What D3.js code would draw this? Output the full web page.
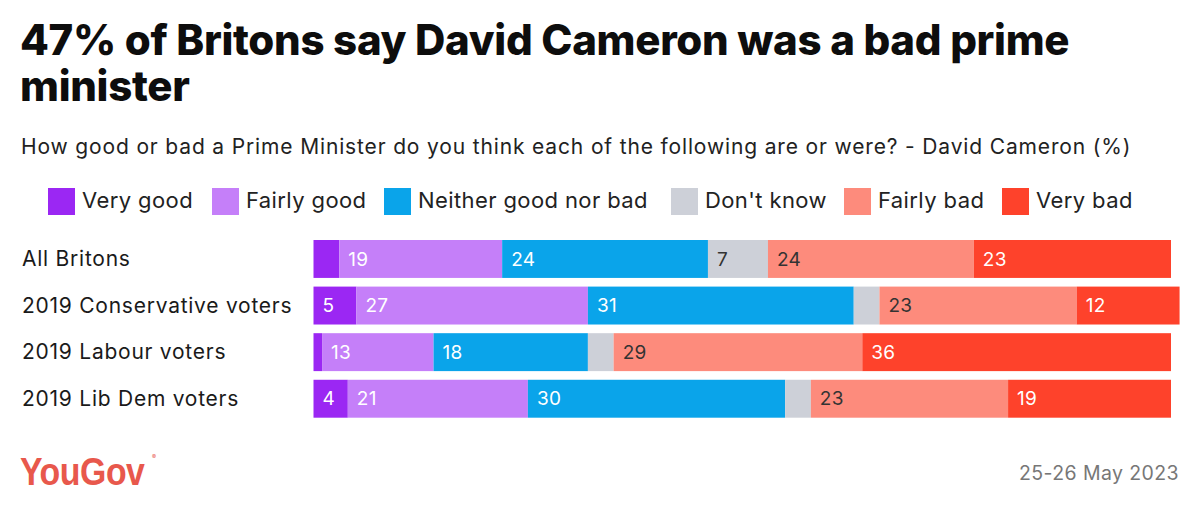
<!DOCTYPE html>
<html>
<head>
<meta charset="utf-8">
<script src="https://cdn.jsdelivr.net/npm/d3@7"></script>
<style>
  html, body { margin: 0; padding: 0; background: #fff; }
  svg { display: block; }
</style>
</head>
<body>
<svg id="chart" width="1200" height="513"></svg>
<script>
// ---- data ----
const categories = ["All Britons", "2019 Conservative voters", "2019 Labour voters", "2019 Lib Dem voters"];
const seriesNames = ["Very good", "Fairly good", "Neither good nor bad", "Don't know", "Fairly bad", "Very bad"];
const veryGood   = [3, 5, 1, 4];
const fairlyGood = [19, 27, 13, 21];
const neither    = [24, 31, 18, 30];
const dontKnow   = [7, 3, 3, 3];
const fairlyBad  = [24, 23, 29, 23];
const veryBad    = [23, 12, 36, 19];
const seriesColors = ["#9b27f3", "#c57ff9", "#0aa4ea", "#cdd0d8", "#fd8b7c", "#fe422b"];
const labelColors  = ["#fff", "#fff", "#fff", "#333", "#333", "#fff"];
const titleLines = ["47% of Britons say David Cameron was a bad prime", "minister"];
const subtitle = "How good or bad a Prime Minister do you think each of the following are or were? - David Cameron (%)";
const dateText = "25-26 May 2023";

const seriesValues = [veryGood, fairlyGood, neither, dontKnow, fairlyBad, veryBad];
const rows = categories.map((c, i) => {
  const o = { category: c };
  seriesNames.forEach((s, j) => { o[s] = seriesValues[j][i]; });
  return o;
});

const svg = d3.select("#chart");
const FONT = "Inter, 'Noto Sans', sans-serif";

// title
svg.append("g").selectAll("text").data(titleLines).join("text")
  .attr("x", 20).attr("y", (d, i) => 55 + i * 46)
  .attr("font-family", FONT).attr("font-weight", 800).attr("font-size", 42)
  .attr("fill", "#0d0d0d").attr("letter-spacing", -0.3)
  .text(d => d);

// subtitle
svg.append("text").attr("x", 21).attr("y", 154)
  .attr("font-family", FONT).attr("font-size", 21).attr("fill", "#222")
  .attr("letter-spacing", 0.85)
  .text(subtitle);

// legend
const legendX = [48, 212, 384, 671, 844, 1002];
const lg = svg.append("g").selectAll("g").data(seriesNames).join("g")
  .attr("transform", (d, i) => `translate(${legendX[i]},188)`);
lg.append("rect").attr("width", 27).attr("height", 27).attr("fill", (d, i) => seriesColors[i]);
lg.append("text").attr("x", 34).attr("y", 20)
  .attr("font-family", FONT).attr("font-size", 22).attr("fill", "#222")
  .attr("letter-spacing", 0.4)
  .text(d => d);

// scales
const x = d3.scaleLinear().domain([0, 100]).range([313.5, 1171]);
const y = d3.scaleBand().domain(categories).range([240, 417.7]).paddingInner(0.186).paddingOuter(0);

const stack = d3.stack().keys(seriesNames);
const stacked = stack(rows);

// category labels
svg.append("g").selectAll("text").data(categories).join("text")
  .attr("x", 22).attr("y", d => y(d) + y.bandwidth() / 2)
  .attr("dy", "0.35em")
  .attr("font-family", FONT).attr("font-size", 21).attr("fill", "#1a1a1a")
  .attr("letter-spacing", 0.75)
  .text(d => d);

// bars
const layers = svg.append("g").selectAll("g").data(stacked).join("g")
  .attr("fill", (d, i) => seriesColors[i]);
layers.selectAll("rect").data(d => d).join("rect")
  .attr("x", d => x(d[0]))
  .attr("y", d => y(d.data.category))
  .attr("width", d => x(d[1]) - x(d[0]))
  .attr("height", y.bandwidth());

// value labels
const lbl = svg.append("g");
stacked.forEach((layer, i) => {
  lbl.selectAll(null).data(layer.filter(d => d[1] - d[0] >= 4)).join("text")
    .attr("x", d => x(d[0]) + 9)
    .attr("y", d => y(d.data.category) + y.bandwidth() / 2)
    .attr("dy", "0.35em")
    .attr("font-family", FONT).attr("font-size", 19)
    .attr("letter-spacing", 0.3)
    .attr("fill", labelColors[i])
    .text(d => d[1] - d[0]);
});

// logo
const logo = svg.append("g");
logo.append("text")
  .attr("transform", "translate(20,485) scale(0.89,1)")
  .attr("font-family", "'Liberation Sans', Arial, sans-serif").attr("font-weight", 700)
  .attr("font-size", 38).attr("fill", "#e8584c")
  .attr("letter-spacing", -0.5)
  .text("YouGov");
logo.append("text").attr("x", 152).attr("y", 459)
  .attr("font-family", FONT).attr("font-size", 6).attr("fill", "#e8584c")
  .text("®");

// date
svg.append("text").attr("x", 1179).attr("y", 479.5).attr("text-anchor", "end")
  .attr("font-family", FONT).attr("font-size", 19.5).attr("fill", "#777")
  .attr("letter-spacing", 0.4)
  .text(dateText);
</script>
</body>
</html>
